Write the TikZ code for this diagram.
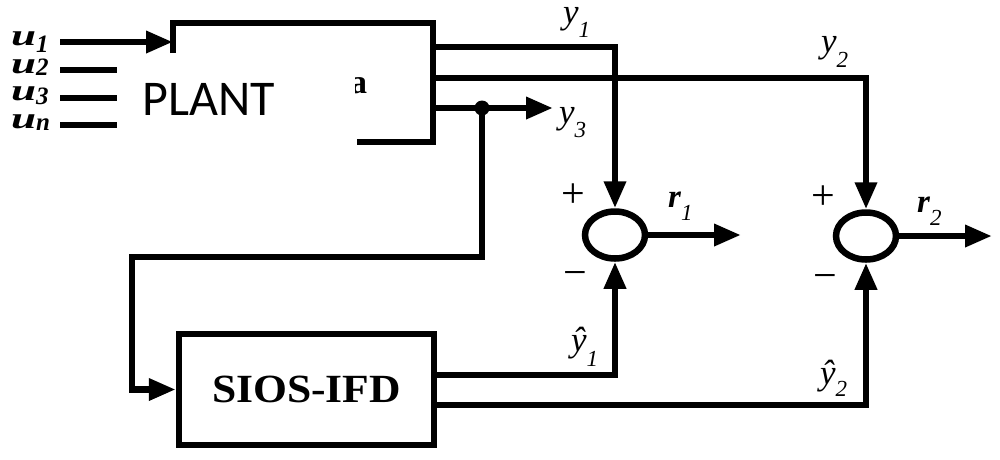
\documentclass[tikz,border=0pt]{standalone}
\usepackage{fontspec}
\setmainfont{Liberation Serif}
\newfontfamily\plantfont{Carlito}
\usetikzlibrary{arrows.meta,shapes.geometric}
\newcommand\ylab[3]{{\fontsize{35}{35}\selectfont\itshape #1}\raisebox{-#3}{\fontsize{23}{23}\selectfont\itshape #2}}
\newcommand\ulab[2]{{\fontsize{30}{30}\selectfont\bfseries\itshape\scalebox{1.5}[1]{u}}\raisebox{-#2}{\fontsize{25}{25}\selectfont\bfseries\itshape #1}}
\newcommand\rlab[1]{{\fontsize{33}{33}\selectfont\bfseries\itshape r}\raisebox{-13pt}{\fontsize{23}{23}\selectfont\itshape #1}}
\begin{document}
\begin{tikzpicture}[x=1pt,y=-1pt,
  wire/.style={line width=6.5pt},
  arr/.style={wire,-{Triangle[length=27pt,width=21pt]}},
  lbl/.style={inner sep=0pt,anchor=base west},
  sumnode/.style={ellipse,draw,line width=6.5pt,minimum width=60pt,minimum height=47pt,inner sep=0pt},
  signtxt/.style={inner sep=0pt,font=\fontsize{42}{42}\selectfont}]
\useasboundingbox (0,0) rectangle (1000,459);
% plant box (partly covered)
\draw[wire] (173,53) -- (173,23) -- (433,23) -- (433,142) -- (357,142);
\node[inner sep=0pt,anchor=base west] (plant) at (142,115) {\plantfont\fontsize{50}{50}\selectfont PLANT};
\begin{scope}
\clip (355,60) rectangle (385,100);
\node[inner sep=0pt,anchor=base west] (art) at (350,93) {\fontsize{34}{34}\selectfont\bfseries a};
\end{scope}
% ports
\coordinate (pu1) at (173,42);
\coordinate (py1) at (433,47);
\coordinate (py2) at (433,78);
\coordinate (py3) at (433,108);
% inputs
\coordinate (u1s) at (60,42);
\coordinate (u2s) at (60,70);  \coordinate (u2e) at (117,70);
\coordinate (u3s) at (60,98);  \coordinate (u3e) at (117,98);
\coordinate (uns) at (60,125); \coordinate (une) at (117,125);
\draw[arr] (u1s) -- (pu1);
\draw[wire] (u2s) -- (u2e);
\draw[wire] (u3s) -- (u3e);
\draw[wire] (uns) -- (une);
\node[lbl] (lu1) at (11,45) {\ulab{1}{7pt}};
\node[lbl] (lu2) at (11,73) {\ulab{2}{2pt}};
\node[lbl] (lu3) at (11,100) {\ulab{3}{4pt}};
\node[lbl] (lun) at (11,128) {\ulab{n}{2pt}};
% sum junctions
\node[sumnode] (s1) at (615,235) {};
\node[sumnode] (s2) at (866,236) {};
% SIOS-IFD
\node[draw,line width=6.5pt,minimum width=255pt,minimum height=111pt,inner sep=0pt,
  font=\fontsize{40}{40}\selectfont\bfseries] (sios) at (306.5,389.5) {\scalebox{1.09}[1]{SIOS-IFD}};
% outputs
\draw[arr] (py1) -| (s1.north);
\draw[arr] (py2) -| (s2.north);
\coordinate (y3e) at (553,108);
\draw[arr] (py3) -- (y3e);
\node[circle,fill,inner sep=0pt,minimum size=15pt] (dot) at (482,108) {};
\coordinate (fb) at (132,257);
\draw[arr] (dot.center) |- (fb) |- (sios.west);
\coordinate (so1) at (434,375);
\coordinate (so2) at (434,405);
\draw[arr] (so1) -| (s1.south);
\draw[arr] (so2) -| (s2.south);
\coordinate (r1e) at (741,235);
\coordinate (r2e) at (992,236);
\draw[arr] (s1.east) -- (r1e);
\draw[arr] (s2.east) -- (r2e);
% labels
\node[lbl] (ly1) at (563,23) {\ylab{y}{1}{14pt}};
\node[lbl] (ly2) at (821,52) {\ylab{y}{2}{15pt}};
\node[lbl] (ly3) at (559,123) {\ylab{y}{3}{14pt}};
\node[lbl] (lyh1) at (571,351) {\ylab{ŷ}{1}{15pt}};
\node[lbl] (lyh2) at (820,384) {\ylab{ŷ}{2}{12pt}};
\node[lbl] (lr1) at (668,207) {\rlab{1}};
\node[lbl] (lr2) at (917,212) {\rlab{2}};
\node[signtxt] (p1) at (573,196) {+};
\node[signtxt] (p2) at (823,198) {+};
\node[signtxt] (m1) at (575,279) {−};
\node[signtxt] (m2) at (825,282) {−};
\end{tikzpicture}
\end{document}
